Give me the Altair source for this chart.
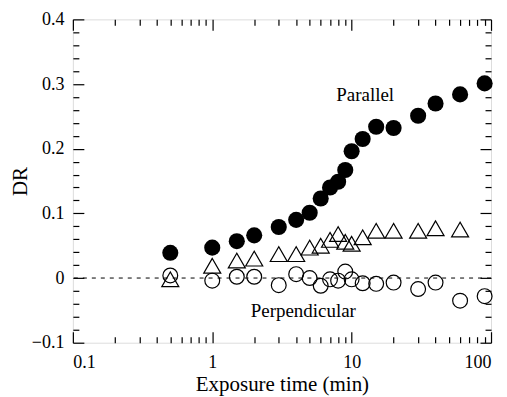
import altair as alt
import pandas as pd

# Parallel (filled circles)
par_x = [0.5, 1, 1.5, 2, 3, 4, 5, 6, 7, 8, 9, 10, 12, 15, 20, 30, 40, 60, 90]
par_y = [0.039, 0.047, 0.057, 0.066, 0.079, 0.090, 0.101, 0.123, 0.140, 0.149,
         0.167, 0.196, 0.215, 0.234, 0.232, 0.251, 0.270, 0.284, 0.301]

# Open triangles
tri_x = [0.5, 1, 1.5, 2, 3, 4, 5, 6, 7, 8, 9, 10, 12, 15, 20, 30, 40, 60]
tri_y = [-0.002, 0.019, 0.027, 0.030, 0.037, 0.037, 0.047, 0.050, 0.059, 0.068,
         0.056, 0.053, 0.063, 0.073, 0.073, 0.073, 0.077, 0.075]

# Perpendicular (open circles)
perp_x = [0.5, 1, 1.5, 2, 3, 4, 5, 6, 7, 8, 9, 10, 12, 15, 20, 30, 40, 60, 90]
perp_y = [0.004, -0.004, 0.002, 0.002, -0.011, 0.006, 0.0, -0.012, -0.002, -0.004,
          0.010, -0.002, -0.008, -0.009, -0.007, -0.017, -0.007, -0.035, -0.028]

label_text = ["Parallel", "Perpendicular"]
label_x = [12.5, 4.5]
label_y = [0.283, -0.051]

x_major = [0.1, 1, 10, 100]
x_minor = [m * d for d in (0.1, 1, 10) for m in range(2, 10)]
y_major = [-0.1, 0.0, 0.1, 0.2, 0.3, 0.4]
y_minor = [round(-0.1 + 0.02 * i, 2) for i in range(26) if i % 5 != 0]

W, H = 419, 324
FONT = "Liberation Serif"

par_df = pd.DataFrame({"x": par_x, "y": par_y})
tri_df = pd.DataFrame({"x": tri_x, "y": tri_y})
perp_df = pd.DataFrame({"x": perp_x, "y": perp_y})
lab1 = pd.DataFrame({"x": [label_x[0]], "y": [label_y[0]], "t": [label_text[0]]})
lab2 = pd.DataFrame({"x": [label_x[1]], "y": [label_y[1]], "t": [label_text[1]]})

xs = alt.Scale(type="log", domain=[0.1, 100], nice=False)
ys = alt.Scale(domain=[-0.1, 0.4], nice=False, zero=False)


def tick_axis(orient, offset, values, size):
    return alt.Axis(orient=orient, offset=offset, values=values, labels=False,
                    domain=False, grid=False, title=None, tickSize=size,
                    tickWidth=1.2, tickColor="black")


x_lab = alt.Axis(orient="bottom", values=x_major, format="~g", ticks=False,
                 domain=False, grid=False, labelFont=FONT, labelFontSize=18,
                 labelColor="black", labelPadding=11, title="Exposure time (min)",
                 titleFont=FONT, titleFontSize=21, titleFontWeight="normal",
                 titleColor="black", titlePadding=2)
y_lab = alt.Axis(orient="left", values=y_major, format="~g", ticks=False,
                 domain=False, grid=False, labelFont=FONT, labelFontSize=18,
                 labelColor="black", labelPadding=9, title="DR",
                 titleFont=FONT, titleFontSize=21, titleFontWeight="normal",
                 titleColor="black", titlePadding=1)

rule = alt.Chart(pd.DataFrame({"y": [0.0]})).mark_rule(
    color="black", strokeDash=[4, 5], strokeWidth=1
).encode(y=alt.Y("y:Q", scale=ys, axis=None))

filled = alt.Chart(par_df).mark_point(
    shape="circle", filled=True, color="black", size=260, opacity=1
).encode(x=alt.X("x:Q", scale=xs, axis=x_lab),
         y=alt.Y("y:Q", scale=ys, axis=y_lab))

tris = alt.Chart(tri_df).mark_point(
    shape="triangle-up", filled=False, color="black", size=290, strokeWidth=1.2,
    opacity=1
).encode(x=alt.X("x:Q", scale=xs, axis=tick_axis("top", -H, x_major, 11)),
         y=alt.Y("y:Q", scale=ys, axis=tick_axis("right", -W, y_major, 11)))

circs = alt.Chart(perp_df).mark_point(
    shape="circle", filled=False, color="black", size=220, strokeWidth=1.2,
    opacity=1
).encode(x=alt.X("x:Q", scale=xs, axis=tick_axis("top", -H, x_minor, 6)),
         y=alt.Y("y:Q", scale=ys, axis=tick_axis("right", -W, y_minor, 6)))

t1 = alt.Chart(lab1).mark_text(font=FONT, fontSize=19, color="black").encode(
    x=alt.X("x:Q", scale=xs, axis=tick_axis("bottom", -H, x_major, 11)),
    y=alt.Y("y:Q", scale=ys, axis=tick_axis("left", -W, y_major, 11)),
    text="t:N")

t2 = alt.Chart(lab2).mark_text(font=FONT, fontSize=19, color="black").encode(
    x=alt.X("x:Q", scale=xs, axis=tick_axis("bottom", -H, x_minor, 6)),
    y=alt.Y("y:Q", scale=ys, axis=tick_axis("left", -W, y_minor, 6)),
    text="t:N")

chart = alt.layer(rule, filled, tris, circs, t1, t2).resolve_axis(
    x="independent", y="independent"
).properties(
    width=W, height=H, autosize="none",
    padding={"left": 65, "top": 11, "right": 8, "bottom": 54}
).configure_view(stroke="black", strokeWidth=1.5).configure(background="white")

chart.save("out.html", embed_options={"renderer": "svg", "actions": False})
